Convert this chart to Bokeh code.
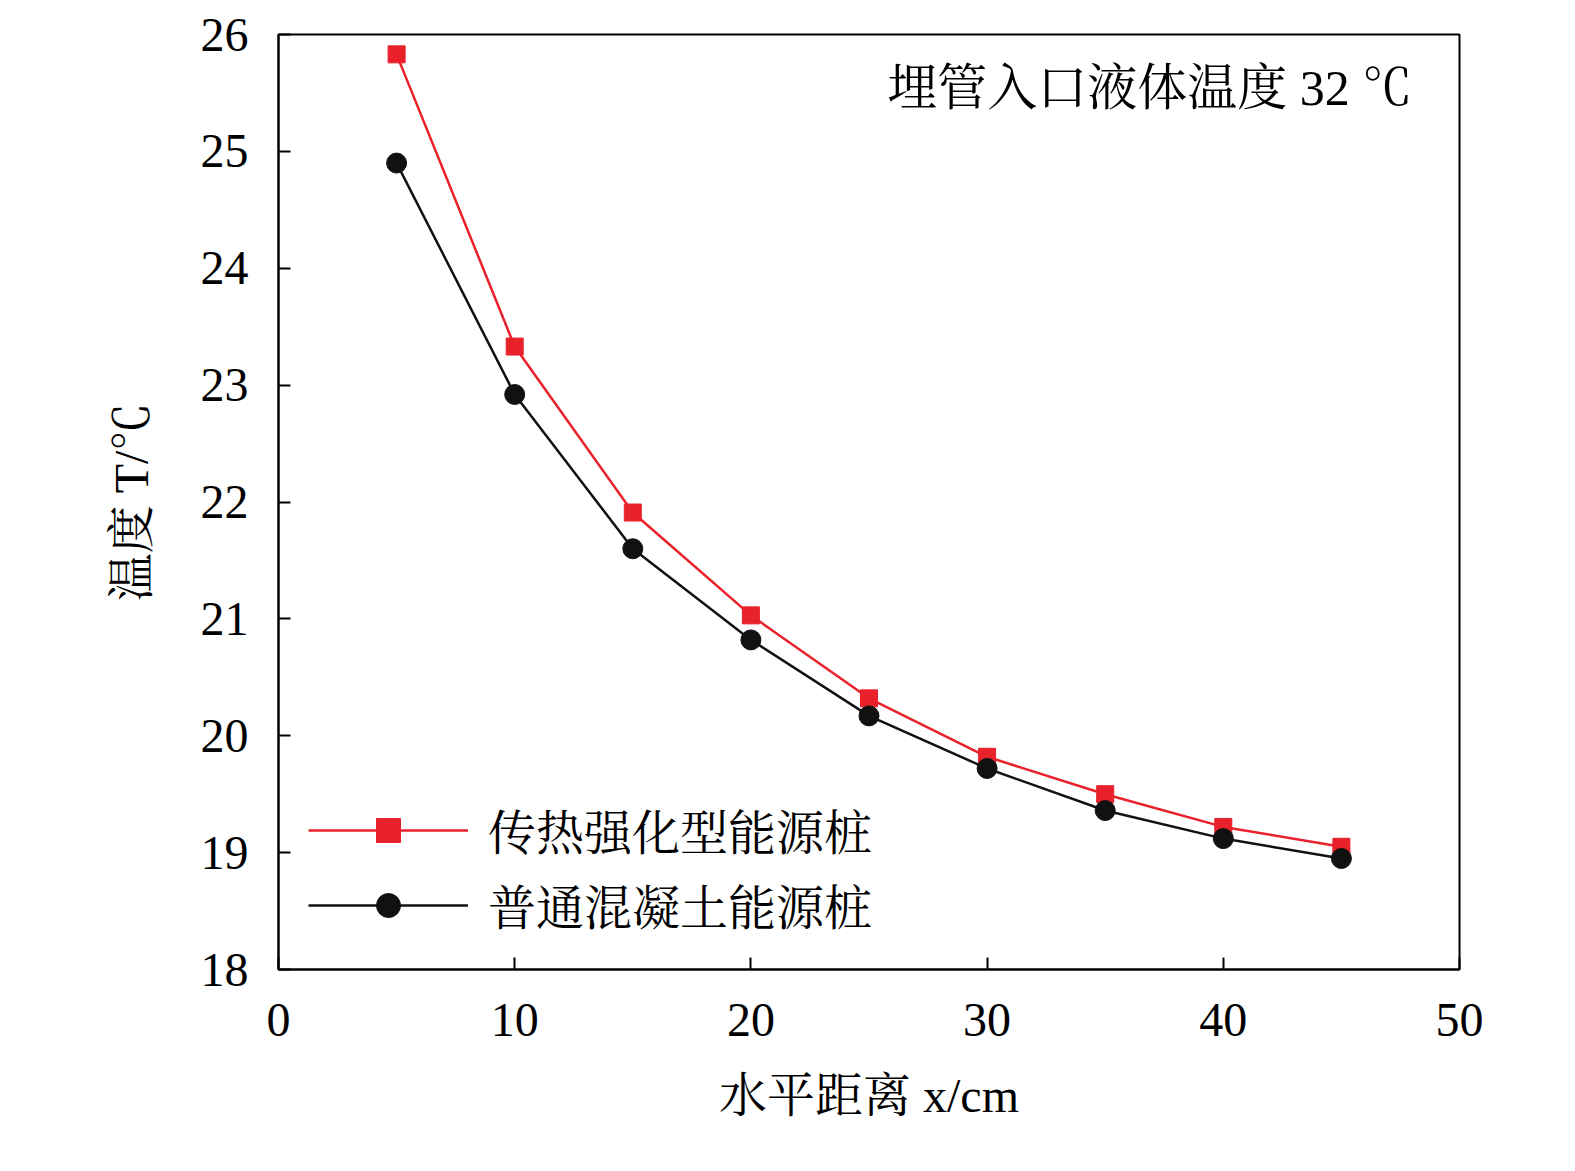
from bokeh.plotting import figure
from bokeh.models import Legend, LegendItem, Label, Range1d, FixedTicker
from bokeh.embed import file_html
from bokeh.resources import INLINE

x = [5, 10, 15, 20, 25, 30, 35, 40, 45]
enhanced = [25.83, 23.33, 21.91, 21.03, 20.32, 19.82, 19.50, 19.22, 19.05]
ordinary = [24.90, 22.92, 21.60, 20.82, 20.17, 19.72, 19.36, 19.12, 18.95]
name_enh = "传热强化型能源桩"
name_ord = "普通混凝土能源桩"
note = "埋管入口液体温度 32 ℃"

F = "'Liberation Serif', 'Noto Serif CJK SC', 'Noto Sans CJK SC'"

p = figure(width=1559, height=1155, output_backend="svg", toolbar_location=None,
           x_range=Range1d(0, 50), y_range=Range1d(18, 26),
           min_border_left=278, min_border_right=100, min_border_top=34, min_border_bottom=186)
p.grid.visible = False
p.outline_line_color = "black"
p.outline_line_width = 2
for ax in (p.xaxis[0], p.yaxis[0]):
    ax.axis_line_width = 2
    ax.major_tick_in = 12
    ax.major_tick_out = 0
    ax.major_tick_line_width = 2
    ax.minor_tick_line_color = None
    ax.major_label_text_font = F
    ax.major_label_text_font_size = "48px"
    ax.major_label_text_color = "black"
    ax.axis_label_text_font = F
    ax.axis_label_text_font_size = "48px"
    ax.axis_label_text_color = "black"
    ax.axis_label_text_font_style = "normal"
p.xaxis.ticker = FixedTicker(ticks=[0, 10, 20, 30, 40, 50])
p.yaxis.ticker = FixedTicker(ticks=list(range(18, 27)))
p.xaxis.major_label_standoff = 34
p.yaxis.major_label_standoff = 30
p.xaxis.axis_label = "水平距离 x/cm"
p.yaxis.axis_label = "温度 T/℃"
p.xaxis.axis_label_standoff = 30
p.yaxis.axis_label_standoff = 40

r1 = p.line(x, enhanced, line_color="#e8212a", line_width=2.5)
s1 = p.scatter(x, enhanced, marker="square", size=17, color="#e8212a")
r2 = p.line(x, ordinary, line_color="#111111", line_width=2.5)
s2 = p.scatter(x, ordinary, marker="circle", size=20, color="#111111")

leg = Legend(items=[LegendItem(label=name_enh, renderers=[r1, s1]),
                    LegendItem(label=name_ord, renderers=[r2, s2])],
             location="bottom_left", border_line_color=None, background_fill_alpha=0,
             label_text_font=F, label_text_font_size="48px", label_text_color="black",
             glyph_width=160, glyph_height=60, spacing=6, label_standoff=20)
leg.margin = 30
p.add_layout(leg, "center")

p.add_layout(Label(x=48.0, y=25.3, text=note, text_align="right", text_font=F,
                   text_font_size="50px", text_color="black"))

open("out.html", "w").write(file_html(p, INLINE))
